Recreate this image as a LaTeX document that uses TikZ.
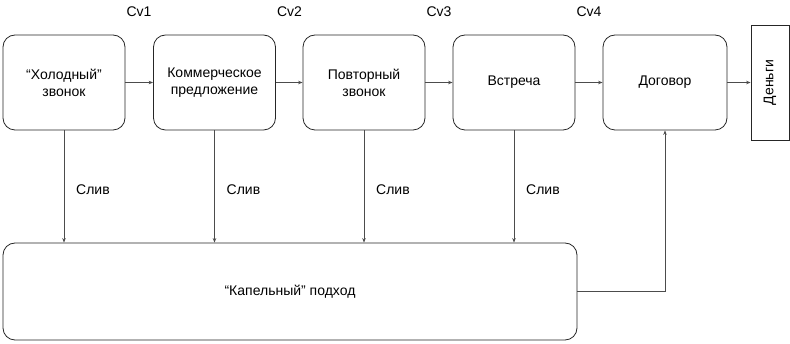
\documentclass[tikz,border=0pt]{standalone}
\usepackage{fontspec}
\setmainfont{Liberation Sans}
\usetikzlibrary{arrows.meta,calc}
\begin{document}
\begin{tikzpicture}[x=1pt,y=-1pt,
  font=\fontsize{14}{17}\selectfont,
  stagebox/.style={draw=black!85, line width=0.8pt, rounded corners=12pt, minimum width=122pt, minimum height=95pt, inner sep=0pt, align=center},
  moneybox/.style={draw=black!85, line width=0.8pt, minimum width=38pt, minimum height=115pt, inner sep=0pt},
  conn/.style={draw=black!70, line width=0.7pt, -{Stealth[length=4.5pt,width=3.5pt]}},
  lbl/.style={inner sep=0pt}
]
\useasboundingbox (0,0) rectangle (790,344);
\node[stagebox] (b1) at (64,82.5) {“Холодный”\\звонок};
\node[stagebox] (b2) at (214.5,82.5) {Коммерческое\\предложение};
\node[stagebox] (b3) at (364,82.5) {Повторный\\звонок};
\node[stagebox] (b4) at (514,82.5) {Встреча};
\node[stagebox, minimum width=124pt] (b5) at (665,82.5) {Договор};
\node[moneybox] (m) at (770,82.5) {\rotatebox{90}{Деньги}};
\node[stagebox, minimum width=574pt, minimum height=97pt] (bot) at (290,291.5) {“Капельный” подход};

\draw[conn] (b1) -- (b2);
\draw[conn] (b2) -- (b3);
\draw[conn] (b3) -- (b4);
\draw[conn] (b4) -- (b5);
\draw[conn] (b5) -- (m);

\node[lbl] (cv1) at (139,12) {Cv1};
\node[lbl] (cv2) at (289.5,12) {Cv2};
\node[lbl] (cv3) at (439,12) {Cv3};
\node[lbl] (cv4) at (589,12) {Cv4};

\foreach \b/\s in {b1/s1,b2/s2,b3/s3,b4/s4}{
  \draw[conn] (\b.south) -- (\b.south |- bot.north);
  \node[lbl, anchor=west] (\s) at ($(\b.south)+(12,59)$) {Слив};
}
\draw[conn] (bot.east) -| (b5.south);
\end{tikzpicture}
\end{document}
